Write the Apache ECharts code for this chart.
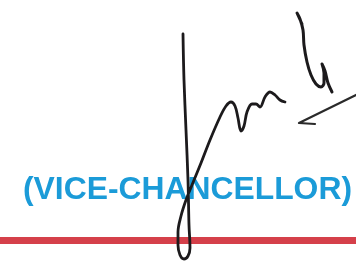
<!DOCTYPE html>
<html>
<head>
<meta charset="utf-8">
<script src="https://cdn.jsdelivr.net/npm/echarts@6/dist/echarts.min.js"></script>
<style>
  html, body { margin: 0; padding: 0; background: #fff; }
  #sig { width: 356px; height: 261px; }
</style>
</head>
<body>
<div id="sig"></div>
<script>
// 签名笔画 (x, y) —— y 轴向下
var strokeMain = [
    [183, 34], [184, 80], [186, 130], [188, 180], [189, 225], [190, 248],
    [188, 256], [184, 259], [180, 255], [178, 245], [178, 232], [181, 216],
    [186, 200], [192, 185], [201, 163], [210, 140], [220, 117], [226, 106],
    [231, 102], [235, 106], [238, 118], [241, 131], [244, 126], [247, 112],
    [252, 104], [256, 104], [260, 107], [265, 97], [270, 92], [275, 95],
    [280, 100], [285, 102]
];
var strokeRight = [
    [302, 24], [297, 13], [300, 19], [303, 30], [304, 45], [307, 62],
    [311, 75], [316, 84], [321, 87], [324, 83], [324, 73], [322, 64],
    [325, 71], [328, 83], [332, 92]
];
var arrowStroke = [[356, 95], [299, 123], [315, 124]];
var redRule = [[0, 240.5], [356, 240.5]];
var titleText = '(VICE-CHANCELLOR)';

var myChart = echarts.init(document.getElementById('sig'));

option = {
    backgroundColor: '#ffffff',
    animation: false,
    grid: { left: 0, right: 0, top: 0, bottom: 0 },
    xAxis: { type: 'value', min: 0, max: 356, show: false },
    yAxis: { type: 'value', min: 0, max: 261, inverse: true, show: false },
    graphic: [
        {
            type: 'text',
            x: 23,
            y: 190,
            scaleX: 0.995,
            z: 0,
            style: {
                text: titleText,
                font: 'bold 32px "Liberation Sans", Arial, sans-serif',
                fill: '#1b9bd8',
                textVerticalAlign: 'middle'
            }
        }
    ],
    series: [
        {
            name: 'rule',
            type: 'line',
            data: redRule,
            symbol: 'none',
            lineStyle: { color: '#d5404a', width: 7 },
            z: 2
        },
        {
            name: 'main',
            type: 'line',
            data: strokeMain,
            smooth: 0.35,
            symbol: 'none',
            lineStyle: { color: '#1c1a1c', width: 2.8, cap: 'round', join: 'round' },
            z: 5
        },
        {
            name: 'right',
            type: 'line',
            data: strokeRight,
            smooth: 0.35,
            symbol: 'none',
            lineStyle: { color: '#1c1a1c', width: 3, cap: 'round', join: 'round' },
            z: 5
        },
        {
            name: 'arrow',
            type: 'line',
            data: arrowStroke,
            symbol: 'none',
            lineStyle: { color: '#2a2a2a', width: 2.2, cap: 'round', join: 'round' },
            z: 5
        }
    ]
};
myChart.setOption(option);
</script>
</body>
</html>
